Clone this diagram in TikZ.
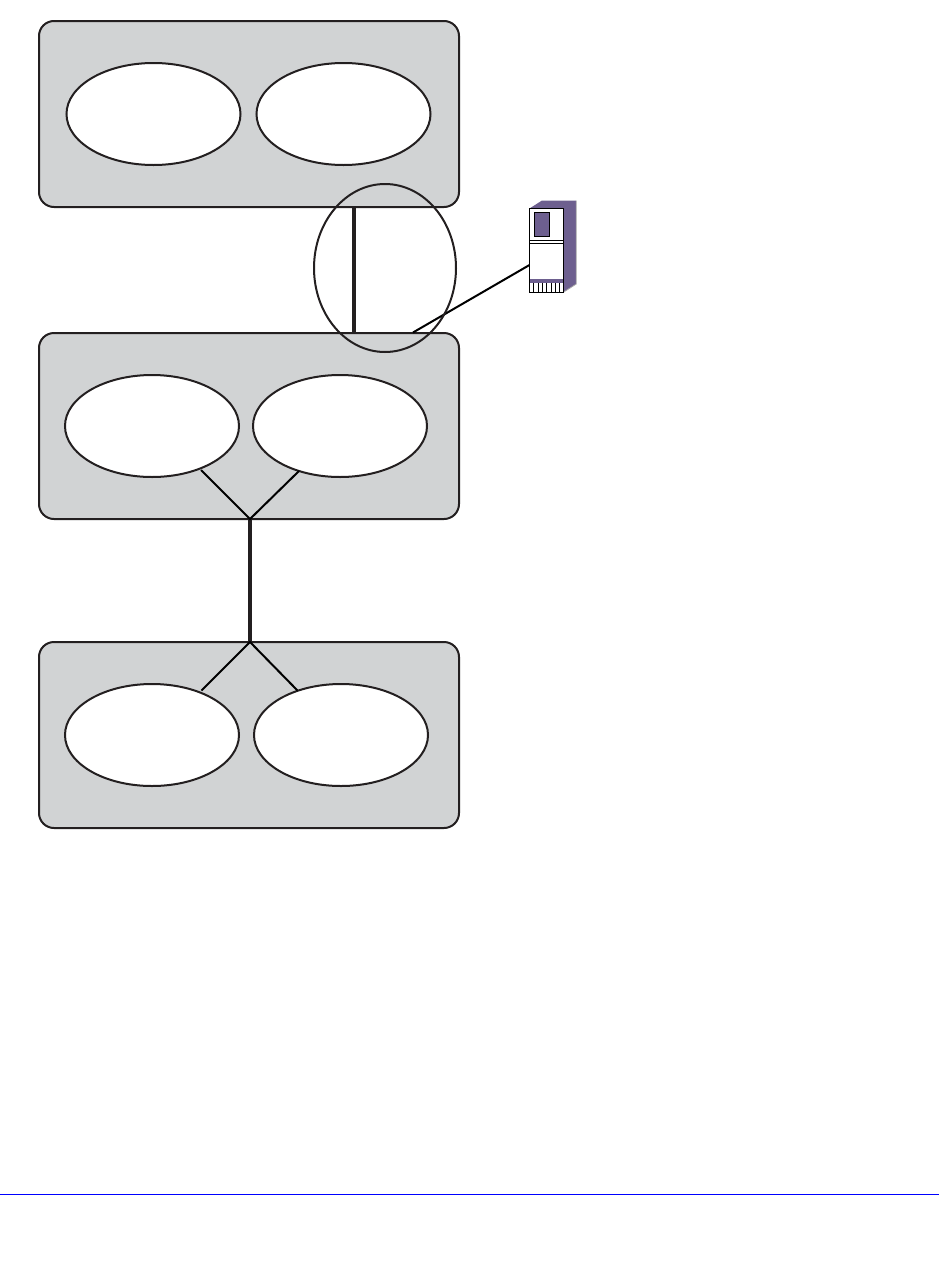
\documentclass[tikz,border=0pt]{standalone}
\usetikzlibrary{shapes.geometric}
\definecolor{ink}{HTML}{231F20}
\definecolor{panelgray}{HTML}{D1D3D4}
\definecolor{srv}{HTML}{6D5F8F}
\tikzset{
  panel/.style={draw=ink,fill=panelgray,line width=2pt,rounded corners=15pt,minimum width=420pt,minimum height=186pt,inner sep=0pt,outer sep=0pt},
  site/.style={ellipse,draw=ink,fill=white,line width=2pt,minimum width=174pt,minimum height=102pt,inner sep=0pt,outer sep=0pt},
  ring/.style={ellipse,draw=ink,line width=2pt,minimum width=142pt,minimum height=168pt,inner sep=0pt,outer sep=0pt},
  trunk/.style={draw=ink,line width=4.5pt},
  thin link/.style={draw=black,line width=2pt},
  srvline/.style={draw=black,line width=1pt},
}
\begin{document}
\begin{tikzpicture}[x=1pt,y=-1pt]
\useasboundingbox (0,0) rectangle (939,1264);
% panels
\node[panel] (p1) at (249,114) {};
\node[panel] (p2) at (249,426) {};
\node[panel] (p3) at (249,735) {};
% sites
\node[site] (e11) at (153.5,114) {};
\node[site] (e12) at (343.5,114) {};
\node[site] (e21) at (152,426) {};
\node[site] (e22) at (340,426) {};
\node[site] (e31) at (152,735) {};
\node[site] (e32) at (341,735) {};
% connector ends
\coordinate (t1) at (354,207);
\coordinate (t2) at (354,333);
\coordinate (j2) at (250,519);
\coordinate (j3) at (250,642);
\coordinate (a21) at (201,470);
\coordinate (a22) at (299,471);
\coordinate (a31) at (201.5,690.5);
\coordinate (a32) at (297.5,690.5);
\coordinate (s0) at (413,332.5);
\coordinate (s1) at (529.5,265);
% connectors
\draw[trunk] (t1) -- (t2);
\draw[trunk] (j2) -- (j3);
\draw[thin link] (a21) -- (j2) -- (a22);
\draw[thin link] (a31) -- (j3) -- (a32);
\draw[thin link] (s0) -- (s1);
\node[ring] (r) at (385,268) {};
% server
\fill[srv] (529.5,208.5) -- (542,200.5) -- (576,200.5) -- (576,284) -- (563,292.5) -- (563,208.5) -- cycle;
\draw[gray!70,line width=0.8pt] (576.3,200.5) -- (576.3,284) -- (563,292.5);
\fill[white] (529.5,208.5) rectangle (563,292.5);
\fill[srv] (529.5,278.5) rectangle (563,282.5);
\draw[srvline,fill=srv] (534.5,212.5) rectangle (549.5,236);
\draw[srvline] (529.5,240.5) -- (563,240.5);
\draw[srvline] (529.5,243.5) -- (563,243.5);
\foreach \i in {533.5,538,542,546.5,551,555,559}
  \draw[draw=black,line width=0.6pt] (\i,282.5) -- (\i,292.5);
\draw[srvline] (529.5,208.5) rectangle (563,292.5);
% page rule
\coordinate (b0) at (0,1194.5);
\coordinate (b1) at (939,1194.5);
\draw[blue,line width=1pt] (b0) -- (b1);
\end{tikzpicture}
\end{document}
